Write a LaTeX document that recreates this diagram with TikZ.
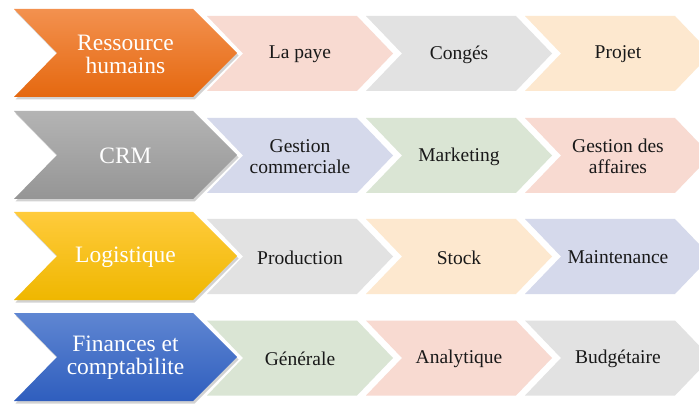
\documentclass[tikz,border=0pt]{standalone}
\usepackage{fontspec}
\setmainfont{Liberation Serif}
\usetikzlibrary{shadows}
\definecolor{pinkL}{HTML}{F8DAD1}
\definecolor{grayL}{HTML}{E2E2E2}
\definecolor{peachL}{HTML}{FDE8CF}
\definecolor{lavL}{HTML}{D5D9EB}
\definecolor{greenL}{HTML}{DAE5D4}
\definecolor{orT}{HTML}{F3914F}
\definecolor{orB}{HTML}{E5680F}
\definecolor{grT}{HTML}{B4B4B4}
\definecolor{grB}{HTML}{959595}
\definecolor{ylT}{HTML}{FFCB3C}
\definecolor{ylB}{HTML}{EFB700}
\definecolor{blT}{HTML}{5F86D2}
\definecolor{blB}{HTML}{2F5EBE}
\tikzset{
  bigtxt/.style={text=white, align=center, font=\fontsize{23.5}{23}\selectfont},
  smalltxt/.style={text=black!90, align=center, font=\fontsize{19.5}{20.5}\selectfont},
  bigshadow/.style={drop shadow={opacity=.35, shadow xshift=1.5pt, shadow yshift=-2.5pt}},
}
\newcommand\BigChev[5]{%
  \path[draw=white, line width=3pt] (14,#1-44) -- (193,#1-44) -- (237,#1) -- (193,#1+44) -- (14,#1+44) -- (57,#1) -- cycle;
  \path[bigshadow, top color=#2, bottom color=#3] (14,#1-44) -- (193,#1-44) -- (237,#1) -- (193,#1+44) -- (14,#1+44) -- (57,#1) -- cycle;
  \node[bigtxt] (#5) at (125.5,#1+1) {#4};%
}
\newcommand\SmallChev[5]{%
  \fill[#3] (#2,#1-37.5) -- (#2+150,#1-37.5) -- (#2+186,#1) -- (#2+150,#1+37.5) -- (#2,#1+37.5) -- (#2+36,#1) -- cycle;
  \node[smalltxt] (#5) at (#2+93,#1+1) {#4};%
}
\begin{document}
\begin{tikzpicture}[x=1pt,y=-1pt]
\useasboundingbox (0,0) rectangle (699,406);
\clip (0,0) rectangle (699,406);
\fill[white] (0,0) rectangle (699,406);
% row 1
\SmallChev{53.5}{207}{pinkL}{La paye}{r1a}
\SmallChev{53.5}{366}{grayL}{Congés}{r1b}
\SmallChev{53.5}{525}{peachL}{Projet}{r1c}
\BigChev{53}{orT}{orB}{Ressource\\humains}{r1}
% row 2
\SmallChev{155.5}{207}{lavL}{Gestion\\commerciale}{r2a}
\SmallChev{155.5}{366}{greenL}{Marketing}{r2b}
\SmallChev{155.5}{525}{pinkL}{Gestion des\\affaires}{r2c}
\BigChev{155}{grT}{grB}{CRM}{r2}
% row 3
\SmallChev{256.5}{207}{grayL}{Production}{r3a}
\SmallChev{256.5}{366}{peachL}{Stock}{r3b}
\SmallChev{256.5}{525}{lavL}{Maintenance}{r3c}
\BigChev{256}{ylT}{ylB}{Logistique}{r3}
% row 4
\SmallChev{358}{207}{greenL}{Générale}{r4a}
\SmallChev{358}{366}{pinkL}{Analytique}{r4b}
\SmallChev{358}{525}{grayL}{Budgétaire}{r4c}
\BigChev{357}{blT}{blB}{Finances et\\comptabilite}{r4}
\end{tikzpicture}
\end{document}
